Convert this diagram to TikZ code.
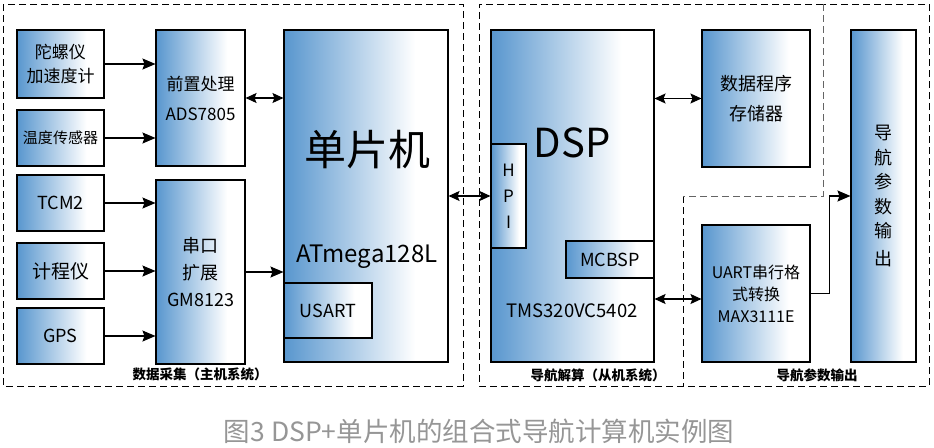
\documentclass[tikz,border=0pt]{standalone}
\usepackage{fontspec}
\setmainfont{Noto Sans CJK SC}
\usetikzlibrary{arrows.meta}

\definecolor{boxBlue}{RGB}{88,150,206}
\pgfdeclarehorizontalshading{boxShade}{100bp}{color(0bp)=(boxBlue); color(25bp)=(boxBlue); color(65bp)=(white); color(100bp)=(white)}

\begin{document}
\begin{tikzpicture}[x=1pt, y=-1pt,
    block/.style={draw=black, line width=1.1pt, shading=boxShade, inner sep=0pt, align=center},
    link/.style={line width=1.1pt, -{Stealth[length=13pt,width=11pt,inset=2pt]}},
    biLink/.style={line width=1.1pt, {Stealth[length=11pt,width=10pt,inset=2pt]}-{Stealth[length=11pt,width=10pt,inset=2pt]}},
    region/.style={dash pattern=on 7pt off 4pt, line width=1pt},
    regionLabel/.style={font=\fontsize{13.5}{16}\selectfont\bfseries}]
    \definecolor{captionGray}{RGB}{150,150,150}
    \definecolor{edgeGray}{RGB}{100,100,100}

    \useasboundingbox (0,0) rectangle (934,447);

    % Draw the dashed regions
    \draw[region] (3,4) rectangle (463,386);
    \draw[region] (823,4) -- (479,4) -- (479,386) -- (929,386) -- (929,4) -- (823,4);
    \draw[region] (683,196) -- (683,386);
    \draw[region, edgeGray] (823,4) -- (823,196) -- (683,196);

    % Sensors
    \node[block, minimum width=87, minimum height=68, font=\fontsize{17}{24}\selectfont] (gyro) at (60.5,64) {陀螺仪\\加速度计};
    \node[block, minimum width=87, minimum height=56, font=\fontsize{15}{18}\selectfont] (temp) at (60.5,138) {温度传感器};
    \node[block, minimum width=87, minimum height=56, font=\fontsize{18}{22}\selectfont] (tcm) at (60.5,203) {TCM2};
    \node[block, minimum width=87, minimum height=56, font=\fontsize{19}{22}\selectfont] (odo) at (60.5,271) {计程仪};
    \node[block, minimum width=87, minimum height=56, font=\fontsize{18}{22}\selectfont] (gps) at (60.5,336) {GPS};

    % Front end
    \node[block, minimum width=89, minimum height=136, font=\fontsize{17}{30}\selectfont] (pre) at (200.5,98) {前置处理\\ADS7805};
    \node[block, minimum width=89, minimum height=184, font=\fontsize{18}{27}\selectfont] (serial) at (200.5,272) {串口\\扩展\\GM8123};

    % Host MCU
    \node[block, minimum width=164, minimum height=332] (mcu) at (366,196) {};
    \node[font=\fontsize{42}{46}\selectfont] (mcuName) at (367,150) {单片机};
    \node[font=\fontsize{24}{28}\selectfont] (mcuChip) at (367,257) {ATmega128L};
    \node[block, minimum width=88, minimum height=55, font=\fontsize{18}{22}\selectfont] (usart) at (328,310.5) {USART};

    % DSP
    \node[block, minimum width=163, minimum height=332] (dsp) at (572.5,196) {};
    \node[font=\fontsize{40}{44}\selectfont] (dspName) at (572,143) {DSP};
    \node[font=\fontsize{18.5}{22}\selectfont] (dspChip) at (572,311) {TMS320VC5402};
    \node[block, minimum width=35, minimum height=104, font=\fontsize{17}{26}\selectfont] (hpi) at (508.5,196) {H\\P\\I};
    \node[block, minimum width=88, minimum height=37, font=\fontsize{18}{22}\selectfont] (mcbsp) at (610,259.5) {MCBSP};

    % Memory, UART and output
    \node[block, minimum width=108, minimum height=137, font=\fontsize{18}{30}\selectfont] (mem) at (756,98.5) {数据程序\\存储器};
    \node[block, minimum width=108, minimum height=137, font=\fontsize{16}{22}\selectfont] (uart) at (756,293.5) {UART串行格\\式转换\\MAX3111E};
    \node[block, minimum width=65, minimum height=332, font=\fontsize{18}{24.5}\selectfont] (out) at (883.5,196) {导\\航\\参\\数\\输\\[3pt]出};

    % Draw connectors
    \draw[link] (gyro.east) -- (gyro.east -| pre.west);
    \draw[link] (temp.east) -- (temp.east -| pre.west);
    \draw[link] (tcm.east) -- (tcm.east -| serial.west);
    \draw[link] (odo.east) -- (odo.east -| serial.west);
    \draw[link] (gps.east) -- (gps.east -| serial.west);
    \draw[biLink] (pre.east) -- (pre.east -| mcu.west);
    \draw[link] (serial.east) -- (serial.east -| mcu.west);
    \draw[biLink] (mcu.east) -- (hpi.west);
    \draw[biLink] (mem.west -| dsp.east) -- (mem.west);
    \draw[biLink] ([yshift=-5.5pt]uart.west -| dsp.east) -- ([yshift=-5.5pt]uart.west);
    \draw[link] (uart.east) -- ++(19,0) |- (out.west);

    % Region labels
    \node[regionLabel] (hostLabel) at (200,374) {数据采集（主机系统）};
    \node[regionLabel] (slaveLabel) at (598,375) {导航解算（从机系统）};
    \node[regionLabel] (outLabel) at (817,375) {导航参数输出};

    % Caption
    \node[font=\fontsize{26.5}{30}\selectfont, text=captionGray] (caption) at (479,431) {图3 DSP+单片机的组合式导航计算机实例图};

\end{tikzpicture}
\end{document}
